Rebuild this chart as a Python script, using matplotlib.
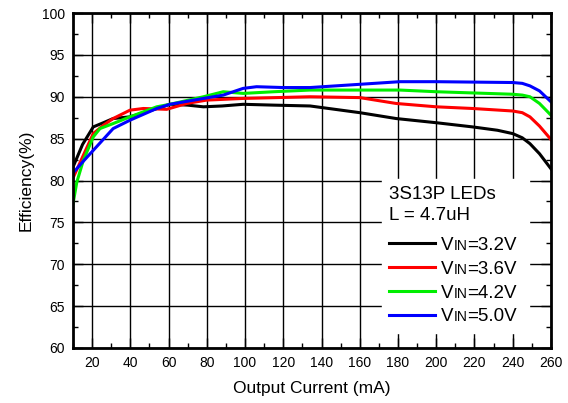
import numpy as np
import matplotlib
matplotlib.use('Agg')
import matplotlib.pyplot as plt
from matplotlib.ticker import MultipleLocator

plt.rcParams['font.family'] = ['Liberation Sans', 'DejaVu Sans']

# efficiency curves (x = output current in mA)
vin_labels = ['3.2V', '3.6V', '4.2V', '5.0V']
colors = ['black', 'red', '#00ee00', 'blue']

x_32 = [10, 15, 20.6, 25.9, 31, 39.8, 48.5, 60.7, 70, 78.2, 88, 99, 115, 134, 160, 179, 200, 219, 232, 240, 245, 249, 254, 260]
y_32 = [81.6, 84.3, 86.4, 86.9, 87.4, 87.6, 88.2, 89.1, 89.0, 88.8, 88.9, 89.1, 89.0, 88.9, 88.1, 87.4, 86.9, 86.4, 86.0, 85.6, 85.1, 84.4, 83.2, 81.4]

x_36 = [10, 15, 20.6, 25.9, 31, 39.8, 46.8, 59, 69.5, 79.9, 99, 134, 160, 179, 200, 219, 240, 245, 249, 254, 260]
y_36 = [80.3, 82.8, 85.6, 86.6, 87.4, 88.4, 88.6, 88.5, 89.2, 89.6, 89.8, 90.0, 89.9, 89.2, 88.8, 88.6, 88.3, 88.1, 87.6, 86.5, 84.9]

x_42 = [10, 12, 15.4, 20.6, 24.1, 31, 39.8, 53.8, 60.7, 78.2, 88.6, 99, 115, 134, 181, 200, 240, 245, 249, 254, 260]
y_42 = [77.2, 79.8, 82.4, 85.2, 86.2, 86.8, 87.6, 88.8, 89.1, 90.0, 90.6, 90.4, 90.6, 90.8, 90.8, 90.6, 90.3, 90.2, 90.0, 89.2, 87.8]

x_50 = [10, 15, 20.6, 31, 39.8, 53.8, 60.7, 78.2, 88.6, 99, 106, 120, 134, 181, 200, 240, 245, 249, 254, 260]
y_50 = [80.9, 82.2, 83.6, 86.2, 87.2, 88.6, 89.1, 89.8, 90.2, 91.0, 91.2, 91.1, 91.1, 91.8, 91.8, 91.7, 91.6, 91.3, 90.7, 89.4]

series = [(x_32, y_32), (x_36, y_36), (x_42, y_42), (x_50, y_50)]

fs = 13.5

fig = plt.figure(figsize=(5.68, 4.03), dpi=100)
ax = fig.add_axes([0.1285, 0.1365, 0.8415, 0.8312])

for (xs, ys), lab, c in zip(series, vin_labels, colors):
    ax.plot(xs, ys, color=c, lw=2.2, label='VIN=' + lab, zorder=3)

ax.set_xlim(10, 260)
ax.set_ylim(60, 100)
ax.xaxis.set_minor_locator(MultipleLocator(10))
ax.yaxis.set_major_locator(MultipleLocator(5))
ax.yaxis.set_minor_locator(MultipleLocator(2.5))
ax.set_xticks(np.arange(20, 261, 20))
ax.grid(True, which='major', color='black', lw=1.0, zorder=1)
ax.tick_params(which='both', direction='in', top=True, right=True, labelsize=10, pad=6)
ax.tick_params(which='major', length=7, width=1)
ax.tick_params(which='minor', length=3.5, width=1)
for s in ax.spines.values():
    s.set_linewidth(2)
    s.set_zorder(5)

ax.set_xlabel('Output Current (mA)', fontsize=12.5, labelpad=8)
ax.set_ylabel('Efficiency(%)', fontsize=12.5, labelpad=6)

leg = ax.legend(title='3S13P LEDs\nL = 4.7uH', loc='lower left', bbox_to_anchor=(0.646, 0.045),
                fontsize=fs, title_fontsize=fs, frameon=True, fancybox=False,
                edgecolor='white', facecolor='white', framealpha=1, handlelength=2.45,
                handletextpad=0.3, labelspacing=0.36, borderpad=0.4, borderaxespad=0)
leg._legend_box.align = 'left'
leg._legend_box.sep = 9
leg.get_title().set_linespacing(1.3)
leg.set_zorder(4)

# legend labels: "V" + smaller "IN" on the same baseline + "=x.xV"
for t, lab in zip(leg.get_texts(), vin_labels):
    t.set_alpha(0)
    a1 = ax.annotate('V', xy=(0, 0), xycoords=t, va='bottom', ha='left',
                     fontsize=fs, zorder=6, annotation_clip=False)
    a2 = ax.annotate('IN', xy=(1, 0), xycoords=a1, xytext=(0, 0.75), textcoords='offset points',
                     va='bottom', ha='left', fontsize=10, zorder=6, annotation_clip=False)
    ax.annotate('=' + lab, xy=(1, 0), xycoords=a2, xytext=(0, -0.75), textcoords='offset points',
                va='bottom', ha='left', fontsize=fs, zorder=6, annotation_clip=False)

fig.savefig('out.png', dpi=100)
